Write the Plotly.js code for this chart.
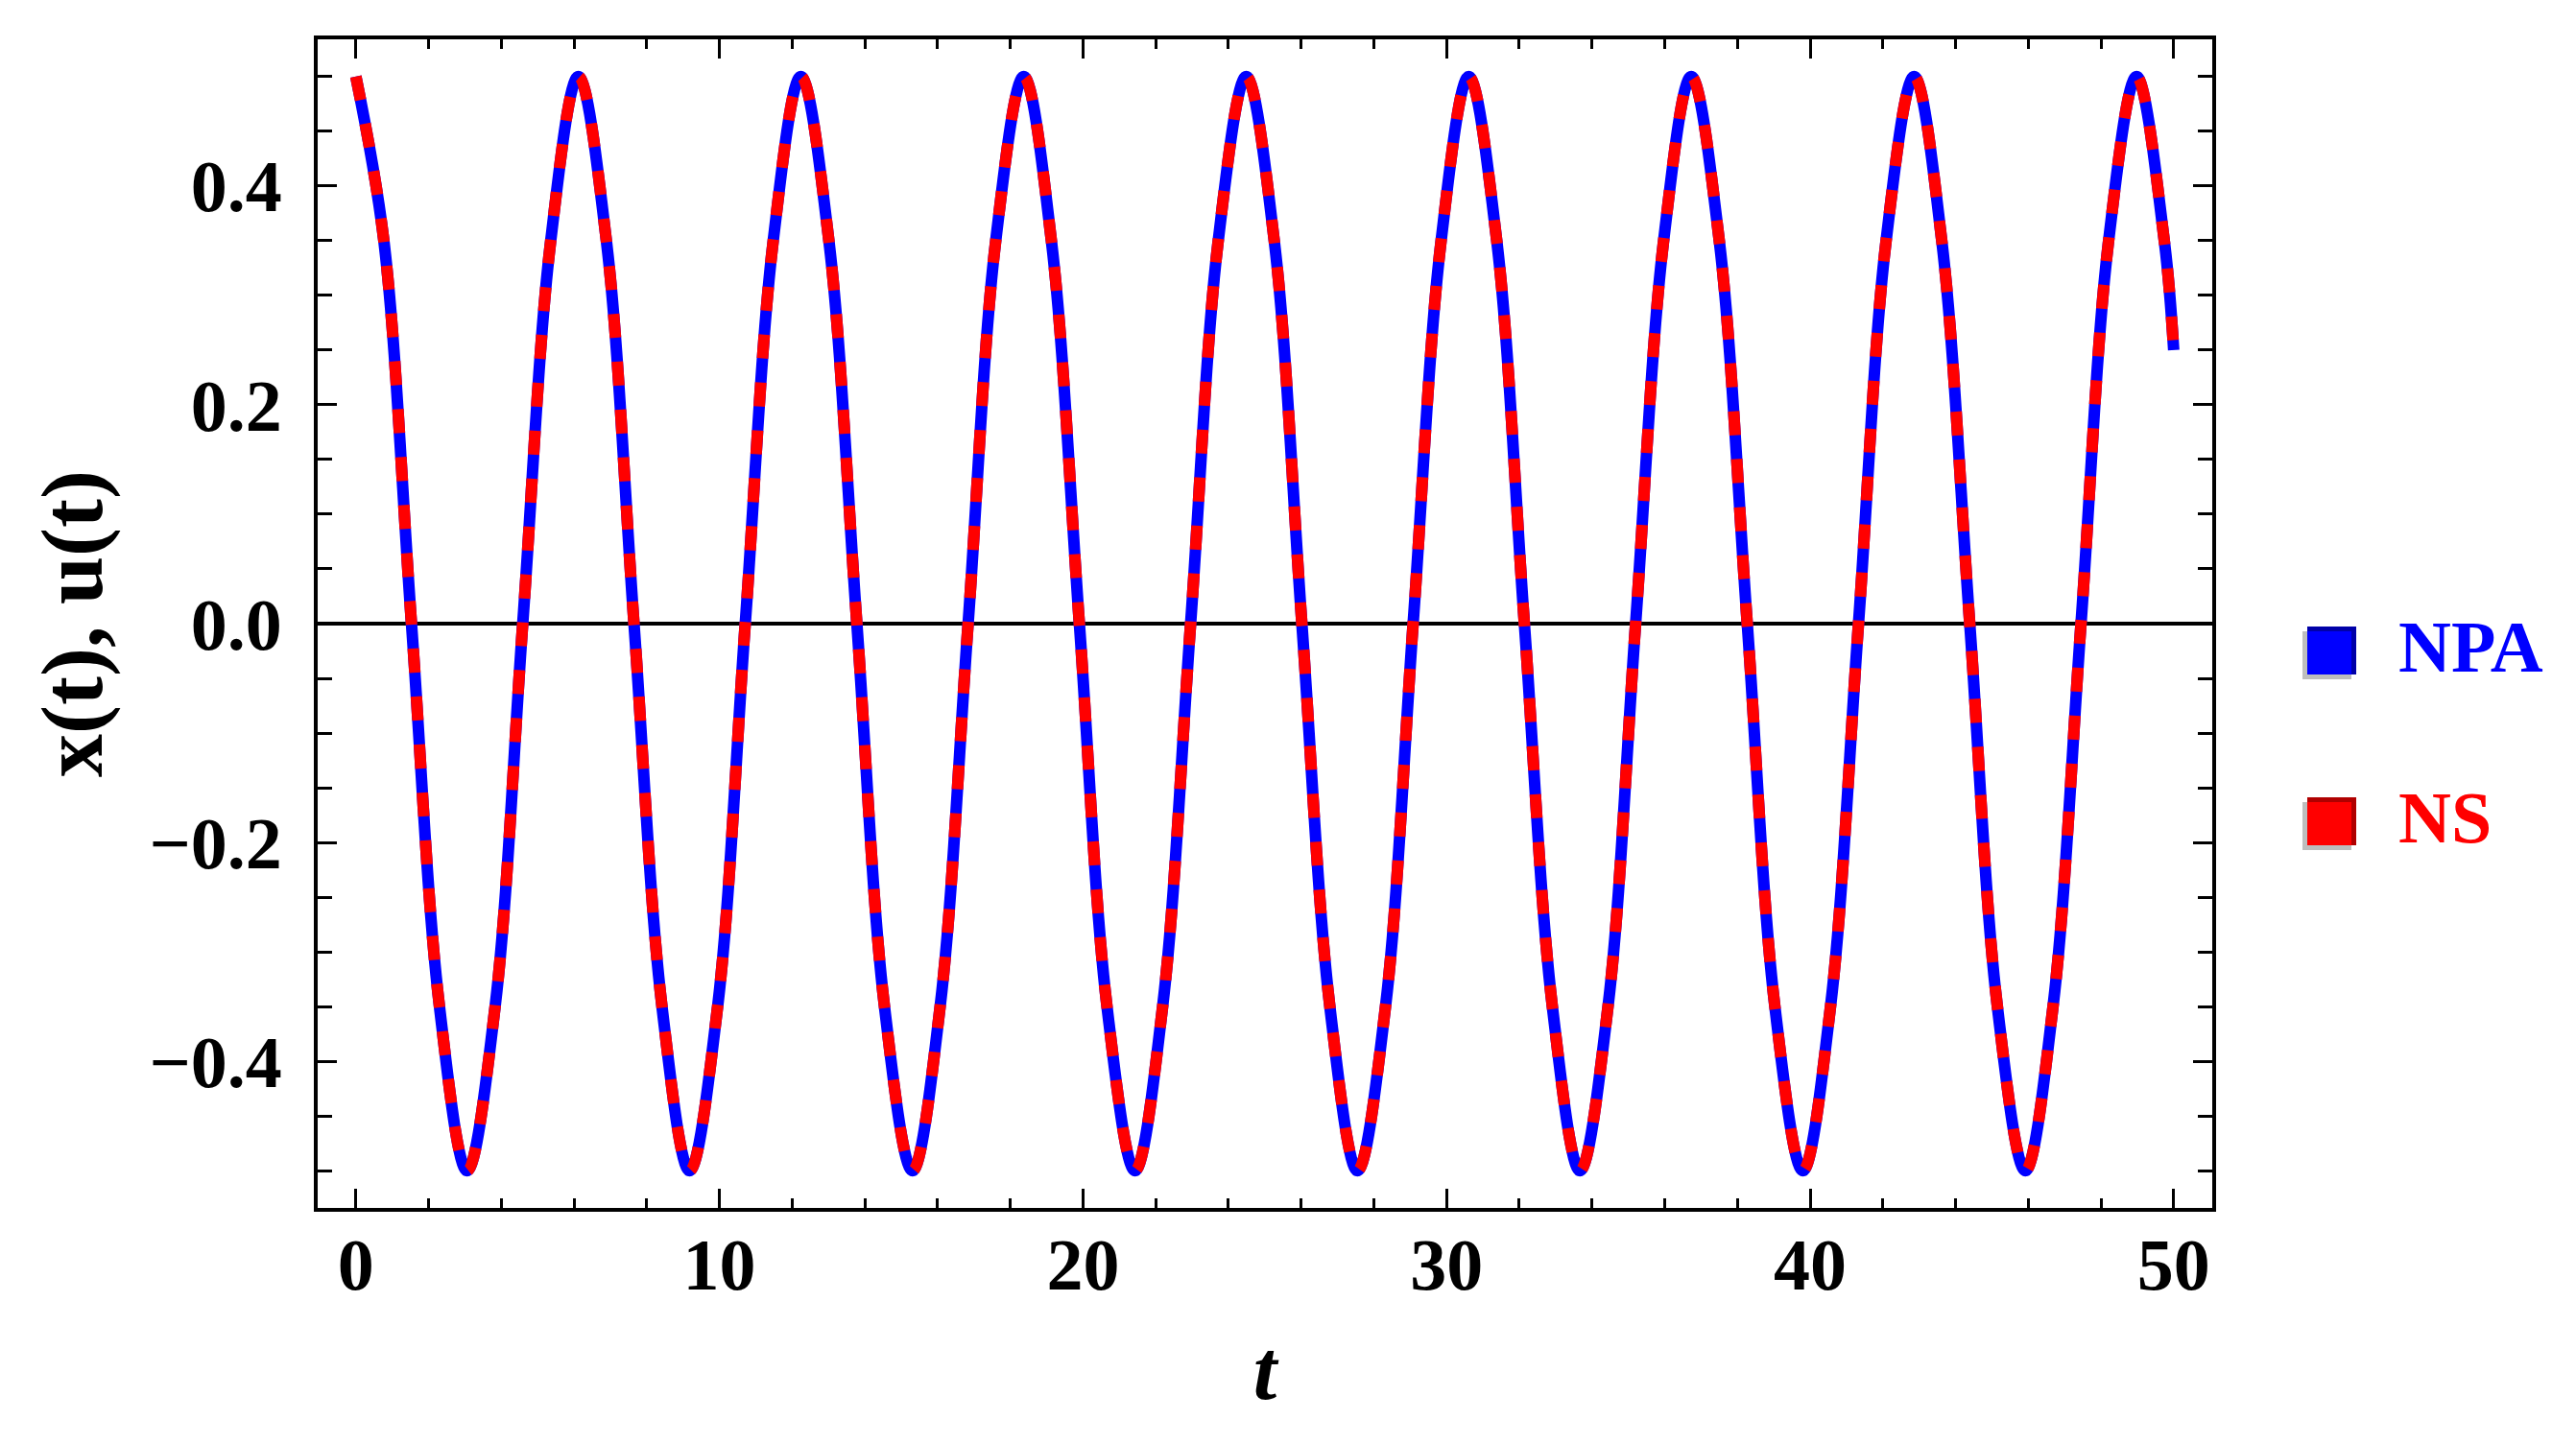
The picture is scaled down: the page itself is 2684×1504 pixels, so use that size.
<!DOCTYPE html>
<html>
<head>
<meta charset="utf-8">
<script src="https://cdn.plot.ly/plotly-3.0.1.min.js"></script>
<style>
  html, body { margin: 0; padding: 0; background: #ffffff; }
  #chart { width: 2684px; height: 1504px; }
</style>
</head>
<body>
<div id="chart"></div>
<script>
// ---- Data (t, x(t) / u(t)) ----
const tValues = [
  0.00, 0.77, 1.53, 2.30, 3.06, 3.83, 4.59, 5.36,
  6.12, 6.89, 7.65, 8.42, 9.18, 9.95, 10.71, 11.48,
  12.24, 13.01, 13.78, 14.54, 15.31, 16.07, 16.84, 17.60,
  18.37, 19.13, 19.90, 20.66, 21.43, 22.19, 22.96, 23.72,
  24.49, 25.26, 26.02, 26.79, 27.55, 28.32, 29.08, 29.85,
  30.61, 31.38, 32.14, 32.91, 33.67, 34.44, 35.20, 35.97,
  36.73, 37.50, 38.27, 39.03, 39.80, 40.56, 41.33, 42.09,
  42.86, 43.62, 44.39, 45.15, 45.92, 46.68, 47.45, 48.21,
  48.98, 49.74, 50.00
];
const npaValues = [
  0.50, 0.35, 0.00, -0.35, -0.50, -0.35, 0.00, 0.35,
  0.50, 0.35, 0.00, -0.35, -0.50, -0.35, 0.00, 0.35,
  0.50, 0.35, 0.00, -0.35, -0.50, -0.35, 0.00, 0.35,
  0.50, 0.35, 0.00, -0.35, -0.50, -0.35, 0.00, 0.35,
  0.50, 0.35, 0.00, -0.35, -0.50, -0.35, 0.00, 0.35,
  0.50, 0.35, 0.00, -0.35, -0.50, -0.35, 0.00, 0.35,
  0.50, 0.35, 0.00, -0.35, -0.50, -0.35, 0.00, 0.35,
  0.50, 0.35, 0.00, -0.35, -0.50, -0.35, 0.00, 0.35,
  0.50, 0.35, 0.25
];
const nsValues = [
  0.50, 0.35, 0.00, -0.35, -0.50, -0.35, 0.00, 0.35,
  0.50, 0.35, 0.00, -0.35, -0.50, -0.35, 0.00, 0.35,
  0.50, 0.35, 0.00, -0.35, -0.50, -0.35, 0.00, 0.35,
  0.50, 0.35, 0.00, -0.35, -0.50, -0.35, 0.00, 0.35,
  0.50, 0.35, 0.00, -0.35, -0.50, -0.35, 0.00, 0.35,
  0.50, 0.35, 0.00, -0.35, -0.50, -0.35, 0.00, 0.35,
  0.50, 0.35, 0.00, -0.35, -0.50, -0.35, 0.00, 0.35,
  0.50, 0.35, 0.00, -0.35, -0.50, -0.35, 0.00, 0.35,
  0.50, 0.35, 0.25
];
const seriesNames = ["NPA", "NS"];
const seriesColors = ["#0000FF", "#FF0000"];
const xTitle = "t";
const yTitle = "x(t), u(t)";

// ---- Layout geometry ----
const W = 2684, H = 1504;
const M = { l: 331, r: 379, t: 41, b: 245 };
const PW = W - M.l - M.r, PH = H - M.t - M.b;
const fx = px => (px - M.l) / PW;
const fy = py => 1 - (py - M.t) / PH;

const FONT = "Liberation Serif, Times New Roman, serif";
const tickFont = { family: FONT, size: 76, color: "#000000", weight: "bold" };

const traces = [
  {
    x: tValues, y: npaValues, type: "scatter", mode: "lines", name: seriesNames[0],
    line: { color: seriesColors[0], width: 12, shape: "spline", smoothing: 1 },
    showlegend: false, hoverinfo: "skip"
  },
  {
    x: tValues, y: nsValues, type: "scatter", mode: "lines", name: seriesNames[1],
    line: { color: seriesColors[1], width: 12, dash: "25px,25px", shape: "spline", smoothing: 1 },
    showlegend: false, hoverinfo: "skip"
  }
];

// Legend built from squares (with grey shadow) + coloured labels
const legendRows = [
  { name: seriesNames[0], color: seriesColors[0], edge: "#0000A8", top: 653, bottom: 703 },
  { name: seriesNames[1], color: seriesColors[1], edge: "#B00000", top: 831, bottom: 881 }
];
const shapes = [];
const annotations = [];
legendRows.forEach(r => {
  const x0 = 2404, x1 = 2455;
  shapes.push({ type: "rect", xref: "paper", yref: "paper", layer: "above",
    x0: fx(x0 - 5), x1: fx(x1 - 5), y0: fy(r.bottom + 5), y1: fy(r.top + 5),
    fillcolor: "#BDBDBD", line: { width: 0 } });
  shapes.push({ type: "rect", xref: "paper", yref: "paper", layer: "above",
    x0: fx(x0), x1: fx(x1), y0: fy(r.bottom), y1: fy(r.top),
    fillcolor: r.color, line: { width: 0 } });
  shapes.push({ type: "rect", xref: "paper", yref: "paper", layer: "above",
    x0: fx(x0), x1: fx(x1), y0: fy(r.top + 5), y1: fy(r.top),
    fillcolor: r.edge, line: { width: 0 } });
  shapes.push({ type: "rect", xref: "paper", yref: "paper", layer: "above",
    x0: fx(x1 - 5), x1: fx(x1), y0: fy(r.bottom), y1: fy(r.top),
    fillcolor: r.edge, line: { width: 0 } });
  annotations.push({ xref: "paper", yref: "paper", x: fx(2497), y: fy((r.top + r.bottom) / 2 - 4),
    xanchor: "left", yanchor: "middle", showarrow: false, text: r.name,
    font: { family: FONT, size: 76, color: r.color, weight: "bold" } });
});

// Vertical axis title placed as a rotated annotation
annotations.push({ xref: "paper", yref: "paper", x: fx(76), y: 0.5,
  xanchor: "center", yanchor: "middle", textangle: -90, showarrow: false, text: yTitle,
  font: { family: FONT, size: 90, color: "#000000", weight: "bold" } });

const layout = {
  width: W, height: H,
  margin: M,
  paper_bgcolor: "#ffffff", plot_bgcolor: "#ffffff",
  showlegend: false,
  xaxis: {
    range: [-1.05, 51.06],
    tick0: 0, dtick: 10,
    ticks: "inside", ticklen: 20, tickwidth: 3, tickcolor: "#000000",
    minor: { dtick: 2, ticks: "inside", ticklen: 10, tickwidth: 3, tickcolor: "#000000" },
    showline: true, linewidth: 4, linecolor: "#000000", mirror: "allticks",
    showgrid: false, zeroline: false,
    tickfont: tickFont, ticklabelstandoff: -10,
    title: { text: xTitle, standoff: 38,
      font: { family: FONT, size: 88, color: "#000000", weight: "bold", style: "italic" } }
  },
  yaxis: {
    range: [-0.534, 0.534],
    tick0: 0, dtick: 0.2, tickformat: ".1f",
    ticks: "inside", ticklen: 20, tickwidth: 3, tickcolor: "#000000",
    minor: { dtick: 0.05, ticks: "inside", ticklen: 15, tickwidth: 3, tickcolor: "#000000" },
    showline: true, linewidth: 4, linecolor: "#000000", mirror: "allticks",
    showgrid: false,
    zeroline: true, zerolinecolor: "#000000", zerolinewidth: 4,
    tickfont: tickFont, ticklabelstandoff: 18
  },
  shapes: shapes,
  annotations: annotations
};

Plotly.newPlot("chart", traces, layout, { staticPlot: true, displayModeBar: false });
</script>
</body>
</html>
